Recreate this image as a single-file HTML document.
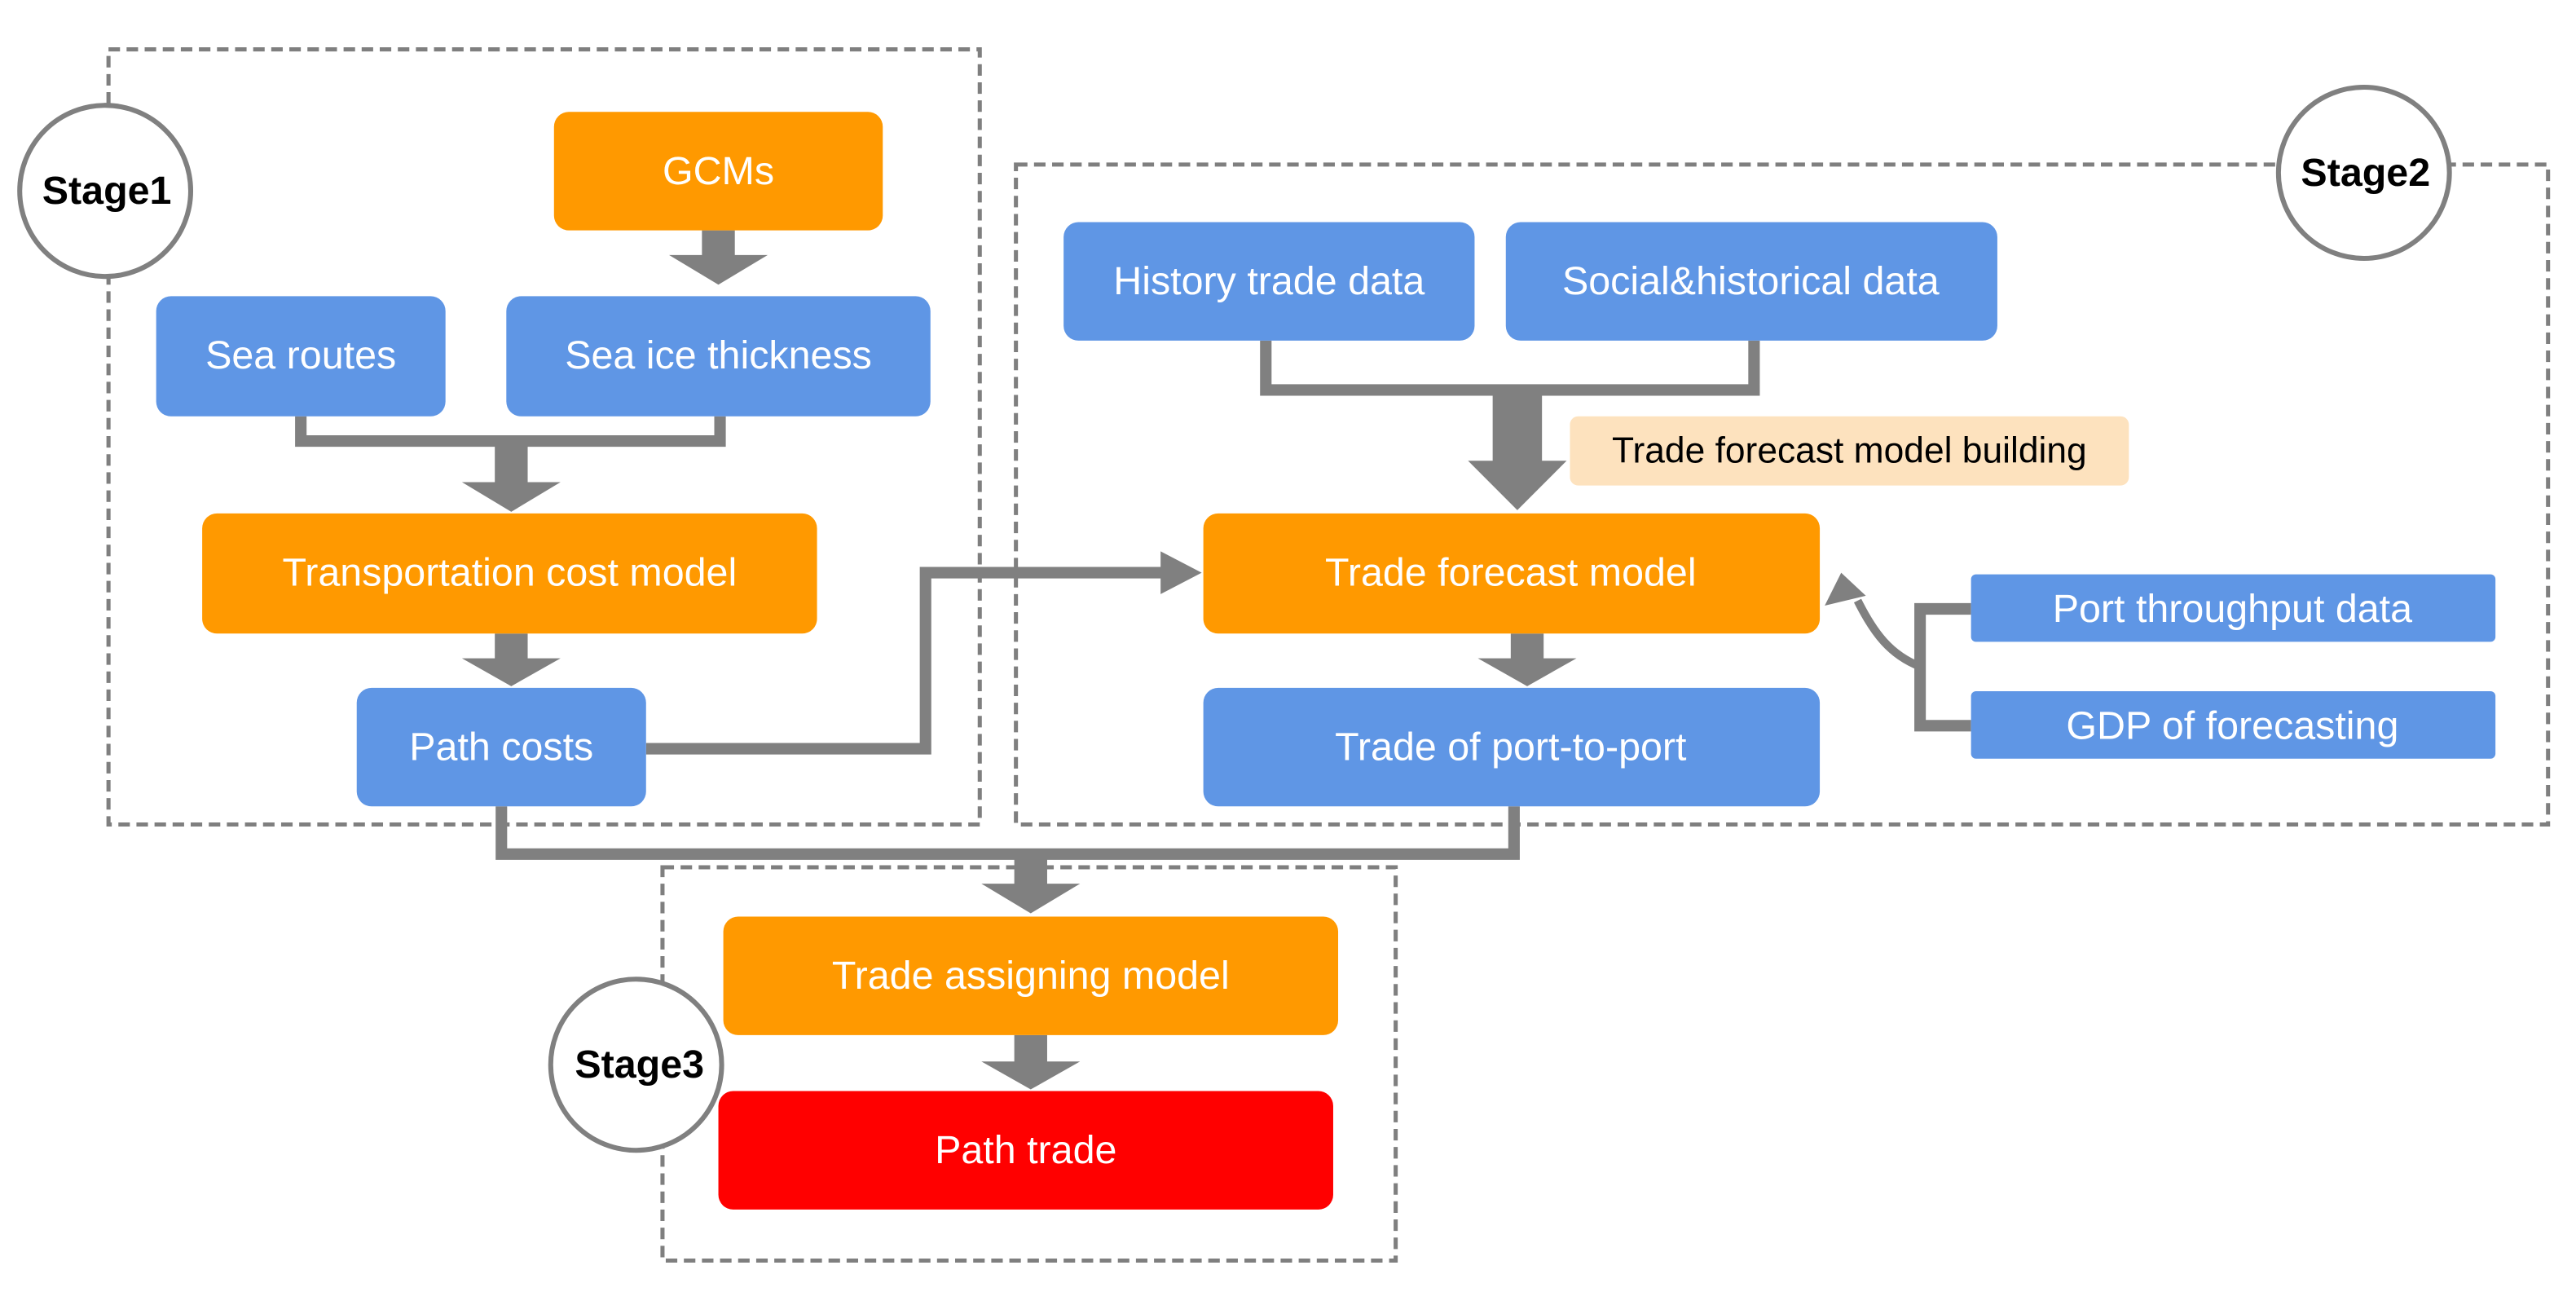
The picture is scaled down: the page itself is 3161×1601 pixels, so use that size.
<!DOCTYPE html>
<html><head><meta charset="utf-8"><style>html,body{margin:0;padding:0;background:#fff}svg{display:block}</style></head>
<body>
<svg width="3161" height="1601" viewBox="0 0 1567 793" preserveAspectRatio="none" xmlns="http://www.w3.org/2000/svg" font-family="Liberation Sans, sans-serif">
<g fill="none" stroke="#7f7f7f" stroke-width="2.5" stroke-dasharray="7,4">
<rect x="66" y="30" width="530" height="471"/>
<rect x="618" y="100" width="932" height="401"/>
<rect x="403" y="527" width="446" height="239"/>
</g>
<g fill="none" stroke="#808080" stroke-width="7">
<polyline points="183,253 183,268 438,268 438,253"/>
<polyline points="770,207 770,237 1067,237 1067,207"/>
<polyline points="393,455 563,455 563,348 710,348"/>
<polyline points="305,490 305,519 921,519 921,490"/>
<polyline points="1199,370 1168,370 1168,441 1199,441"/>
<path d="M1168,405 C1150,398 1140,385 1130,365" stroke-width="5"/>
</g>
<g fill="#808080">
<polygon points="731,348 706,335 706,361"/>
<polygon points="1120,348 1110,368 1135,362"/>
<polygon points="427,140 447,140 447,155 467,155 437,173 407,155 427,155"/>
<polygon points="301,268 321,268 321,293 341,293 311,311 281,293 301,293"/>
<polygon points="301,385 321,385 321,400 341,400 311,417 281,400 301,400"/>
<polygon points="908,237 938,237 938,280 953,280 923,310 893,280 908,280"/>
<polygon points="919,385 939,385 939,400 959,400 929,417 899,400 919,400"/>
<polygon points="617,519 637,519 637,537 657,537 627,555 597,537 617,537"/>
<polygon points="617,629 637,629 637,645 657,645 627,662 597,645 617,645"/>
</g>
<g>
<rect x="337" y="68" width="200" height="72" rx="9" fill="#FF9900"/>
<rect x="95" y="180" width="176" height="73" rx="9" fill="#5F96E5"/>
<rect x="308" y="180" width="258" height="73" rx="9" fill="#5F96E5"/>
<rect x="123" y="312" width="374" height="73" rx="9" fill="#FF9900"/>
<rect x="217" y="418" width="176" height="72" rx="9" fill="#5F96E5"/>
<rect x="647" y="135" width="250" height="72" rx="9" fill="#5F96E5"/>
<rect x="916" y="135" width="299" height="72" rx="9" fill="#5F96E5"/>
<rect x="955" y="253" width="340" height="42" rx="5" fill="#FDE2BE"/>
<rect x="732" y="312" width="375" height="73" rx="9" fill="#FF9900"/>
<rect x="732" y="418" width="375" height="72" rx="9" fill="#5F96E5"/>
<rect x="1199" y="349" width="319" height="41" rx="3" fill="#5F96E5"/>
<rect x="1199" y="420" width="319" height="41" rx="3" fill="#5F96E5"/>
<rect x="440" y="557" width="374" height="72" rx="9" fill="#FF9900"/>
<rect x="437" y="663" width="374" height="72" rx="9" fill="#FF0000"/>
</g>
<g fill="#fff" stroke="#808080" stroke-width="3">
<circle cx="64" cy="116" r="52"/>
<circle cx="1438" cy="105" r="52"/>
<circle cx="387" cy="647" r="52"/>
</g>
<g font-size="24" fill="#fff" text-anchor="middle" dominant-baseline="central">
<text x="437" y="104">GCMs</text>
<text x="183" y="216">Sea routes</text>
<text x="437" y="216">Sea ice thickness</text>
<text x="310" y="348">Transportation cost model</text>
<text x="305" y="454">Path costs</text>
<text x="772" y="171">History trade data</text>
<text x="1065" y="171">Social&amp;historical data</text>
<text x="919" y="348">Trade forecast model</text>
<text x="919" y="454">Trade of port-to-port</text>
<text x="1358" y="370">Port throughput data</text>
<text x="1358" y="441">GDP of forecasting</text>
<text x="627" y="593">Trade assigning model</text>
<text x="624" y="699">Path trade</text>
<text x="1125" y="274" fill="#000" font-size="22">Trade forecast model building</text>
</g>
<g font-size="24" font-weight="bold" fill="#000" text-anchor="middle" dominant-baseline="central">
<text x="65" y="116">Stage1</text>
<text x="1439" y="105">Stage2</text>
<text x="389" y="647">Stage3</text>
</g>
</svg>
</body></html>
